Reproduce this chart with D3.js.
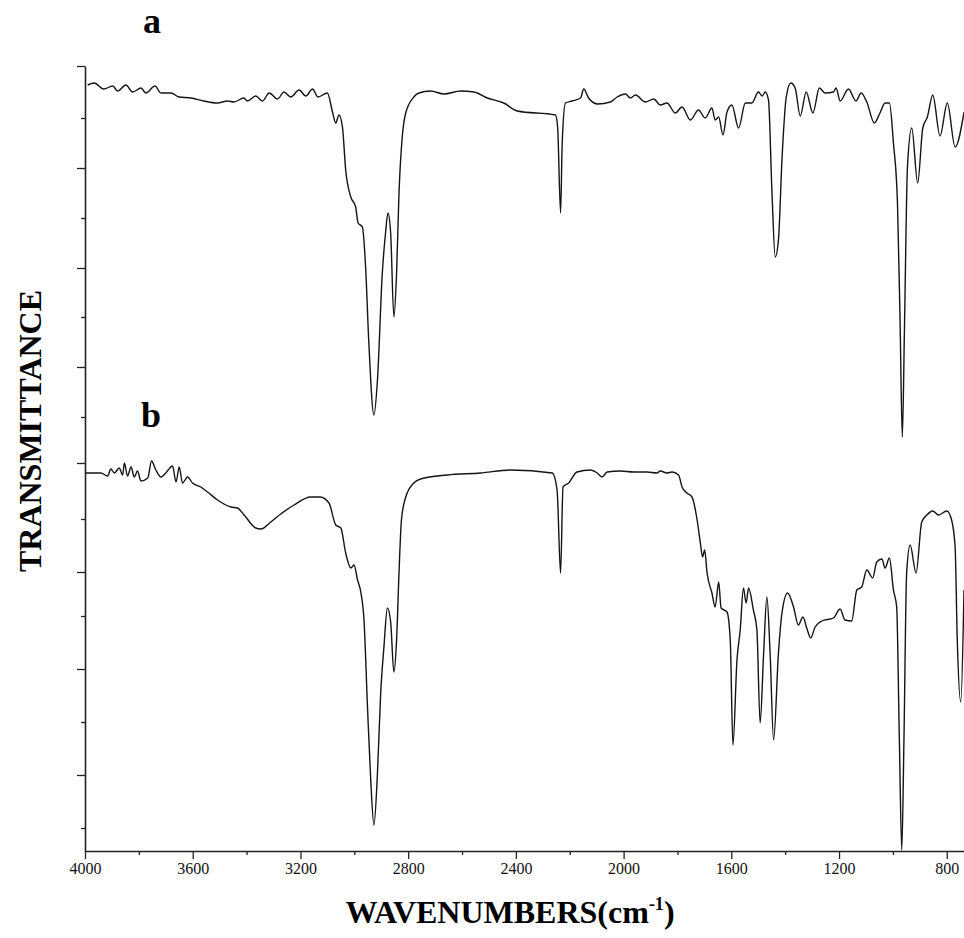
<!DOCTYPE html>
<html>
<head>
<meta charset="utf-8">
<script src="https://cdn.jsdelivr.net/npm/d3@7"></script>
<style>
  body { margin: 0; background: #fff; }
  svg { display: block; }
</style>
</head>
<body>
<div class="chart"></div>
<script>
// spectrum a (wavenumber cm-1 / transmittance, arbitrary offset units)
const waveA = [3990,3966,3930,3897,3879,3848,3823,3792,3774,3740,
  3718,3681,3651,3607,3559,3508,3471,3447,3410,3397,
  3366,3341,3316,3285,3261,3236,3205,3180,3155,3135,
  3100,3081,3069,3057,3044,3032,3013,2995,2986,2970,
  2958,2946,2927,2914,2896,2884,2875,2865,2853,2843,
  2834,2822,2809,2779,2760,2717,2667,2605,2556,2506,
  2445,2395,2253,2245,2234,2228,2216,2191,2160,2148,
  2130,2096,2049,2024,1993,1975,1956,1919,1888,1864,
  1839,1808,1783,1752,1722,1697,1672,1660,1647,1631,
  1616,1598,1573,1548,1524,1499,1486,1474,1462,1449,
  1437,1425,1412,1396,1379,1363,1344,1322,1297,1273,
  1252,1221,1211,1196,1165,1137,1118,1097,1069,1048,
  1029,1013,998,983,973,965,957,946,930,908,
  889,872,852,825,798,769,736];
const transA = [76.6,76.8,76.2,76.5,76.0,76.6,75.9,76.3,75.8,76.5,
  75.8,75.8,75.4,75.3,75.0,74.8,75.0,74.9,75.3,75.0,
  75.5,75.0,75.8,75.2,75.9,75.4,76.1,75.5,76.2,75.4,
  75.8,73.9,72.8,73.6,72.4,68.1,65.4,64.4,62.8,62.4,
  58.4,50.8,43.6,47.1,57.8,61.8,63.8,61.8,53.4,57.8,
  65.8,71.4,73.8,75.4,75.8,76.0,75.7,76.0,75.9,75.3,
  74.8,74.0,73.6,72.4,63.8,70.8,74.8,75.0,75.3,76.2,
  75.3,74.7,74.9,75.4,75.7,75.3,75.6,74.9,75.2,74.6,
  74.8,73.8,74.4,73.1,74.1,73.3,74.3,73.1,73.4,71.6,
  73.9,74.6,72.3,74.8,74.8,75.9,75.5,75.9,75.1,65.8,
  59.4,61.1,69.1,75.4,76.8,76.3,73.5,75.9,73.8,76.3,
  75.8,75.9,76.3,75.0,76.2,75.0,75.8,74.9,72.8,73.8,
  74.8,74.8,70.8,64.8,52.4,41.4,52.4,68.4,72.3,66.8,
  72.3,73.4,75.6,71.5,74.8,70.4,73.9];

// spectrum b
const waveB = [3996,3966,3941,3916,3904,3891,3873,3860,3854,3842,
  3829,3817,3805,3792,3767,3753,3737,3718,3700,3675,
  3662,3650,3638,3619,3601,3570,3545,3508,3458,3434,
  3409,3366,3347,3310,3273,3224,3162,3127,3094,3069,
  3050,3032,3013,3001,2988,2976,2964,2951,2939,2927,
  2914,2902,2890,2877,2865,2853,2843,2834,2825,2809,
  2779,2754,2655,2531,2420,2265,2247,2234,2225,2204,
  2173,2123,2098,2080,2061,2012,1963,1913,1876,1864,
  1839,1820,1796,1783,1765,1746,1727,1715,1707,1699,
  1690,1672,1660,1647,1638,1616,1604,1594,1579,1567,
  1555,1545,1536,1518,1505,1493,1480,1468,1456,1443,
  1425,1412,1391,1369,1351,1334,1320,1305,1289,1264,
  1221,1196,1178,1153,1134,1116,1097,1075,1060,1041,
  1029,1013,998,986,976,967,959,949,936,914,
  893,874,852,831,800,782,769,761,748,736];
const transB = [37.8,37.8,37.8,37.5,38.2,37.8,38.3,37.6,38.8,37.5,
  38.4,37.4,38.0,37.0,37.3,39.0,38.1,37.4,37.8,38.5,
  36.9,38.4,36.8,37.4,36.8,36.4,35.9,35.1,34.4,34.3,
  33.6,32.3,32.2,32.9,33.7,34.6,35.4,35.4,34.8,32.6,
  32.3,29.8,28.3,28.6,27.1,25.9,23.1,14.4,7.1,2.6,
  7.8,15.8,20.4,24.3,22.9,17.9,21.1,27.8,33.1,35.4,
  36.8,37.2,37.6,37.8,38.1,37.8,36.1,27.8,36.4,36.8,
  37.9,38.1,37.8,37.4,37.9,38.0,37.9,37.9,37.8,38.0,
  37.8,37.9,37.6,36.4,35.8,35.4,33.1,30.8,29.4,30.1,
  27.8,25.8,24.4,26.9,24.3,23.9,21.1,10.6,19.1,22.1,
  26.3,24.8,26.3,24.1,22.1,12.8,19.8,25.4,19.8,11.1,
  19.8,23.8,25.8,24.4,22.6,23.4,22.3,21.3,22.4,23.0,
  23.3,24.2,23.1,23.0,26.1,26.4,28.1,27.3,28.9,29.2,
  28.3,29.3,26.1,24.4,11.1,0.1,11.1,27.8,30.6,27.8,
  32.9,33.6,34.0,33.6,34.0,33.1,30.4,21.1,14.9,26.1];

const xMajorTicks = [4000, 3600, 3200, 2800, 2400, 2000, 1600, 1200, 800];
const xMinorTicks = [3800, 3400, 3000, 2600, 2200, 1800, 1400, 1000];
const yMajorTicks = [78.5, 68.3, 58.3, 48.4, 38.8, 27.9, 18.2, 7.6];
const yMinorTicks = [73.3, 63.3, 53.4, 43.4, 33.2, 23.5, 12.9, 2.3];
const traceLabels = ["a", "b"];

const width = 964, height = 938;
const plotLeft = 85, plotRight = 964, plotTop = 66, plotBottom = 851;

const svg = d3.select("div.chart").append("svg")
  .attr("width", width).attr("height", height)
  .style("font-family", "'Liberation Serif', 'DejaVu Serif', serif");

const x = d3.scaleLinear().domain([4000, 736]).range([plotLeft, plotRight]);
const y = d3.scaleLinear().domain([0, 78.5]).range([plotBottom, plotTop]);

// axes
const gx = svg.append("g").attr("transform", `translate(0,${plotBottom})`);
gx.call(d3.axisBottom(x).tickValues(xMajorTicks).tickFormat(d3.format("d"))
  .tickSize(8).tickSizeOuter(0).tickPadding(4));
gx.selectAll(".tick text")
  .attr("font-size", 16)
  .attr("font-family", "'Liberation Serif', serif")
  .attr("fill", "#111");
const gxMinor = svg.append("g").attr("transform", `translate(0,${plotBottom})`);
gxMinor.call(d3.axisBottom(x).tickValues(xMinorTicks).tickSize(4).tickFormat(""));
gxMinor.select(".domain").remove();

const gy = svg.append("g").attr("transform", `translate(${plotLeft},0)`);
gy.call(d3.axisLeft(y).tickValues(yMajorTicks).tickSize(8).tickSizeOuter(0).tickFormat(""));
const gyMinor = svg.append("g").attr("transform", `translate(${plotLeft},0)`);
gyMinor.call(d3.axisLeft(y).tickValues(yMinorTicks).tickSize(4).tickFormat(""));
gyMinor.select(".domain").remove();

svg.selectAll(".domain").attr("stroke", "#222").attr("stroke-width", 1.6);
svg.selectAll(".tick line").attr("stroke", "#222").attr("stroke-width", 1.3);

// spectra
const line = d3.line()
  .x(d => x(d[0]))
  .y(d => y(d[1]))
  .curve(d3.curveMonotoneX);

[d3.zip(waveA, transA), d3.zip(waveB, transB)].forEach(series => {
  svg.append("path")
    .datum(series)
    .attr("fill", "none")
    .attr("stroke", "#141414")
    .attr("stroke-width", 1.4)
    .attr("stroke-linejoin", "round")
    .attr("d", line);
});

// trace labels
svg.append("text").attr("x", 152).attr("y", 33)
  .attr("text-anchor", "middle").attr("font-size", 36).attr("font-weight", "bold")
  .text(traceLabels[0]);
svg.append("text").attr("x", 151).attr("y", 427)
  .attr("text-anchor", "middle").attr("font-size", 36).attr("font-weight", "bold")
  .text(traceLabels[1]);

// axis titles
svg.append("text")
  .attr("transform", "translate(41,431) rotate(-90)")
  .attr("text-anchor", "middle").attr("font-size", 32).attr("font-weight", "bold")
  .text("TRANSMITTANCE");

const xt = svg.append("text")
  .attr("x", 510).attr("y", 923)
  .attr("text-anchor", "middle").attr("font-size", 32).attr("font-weight", "bold");
xt.append("tspan").text("WAVENUMBERS(cm");
xt.append("tspan").attr("font-size", 18).attr("dy", -13).text("-1");
xt.append("tspan").attr("dy", 13).text(")");
</script>
</body>
</html>
